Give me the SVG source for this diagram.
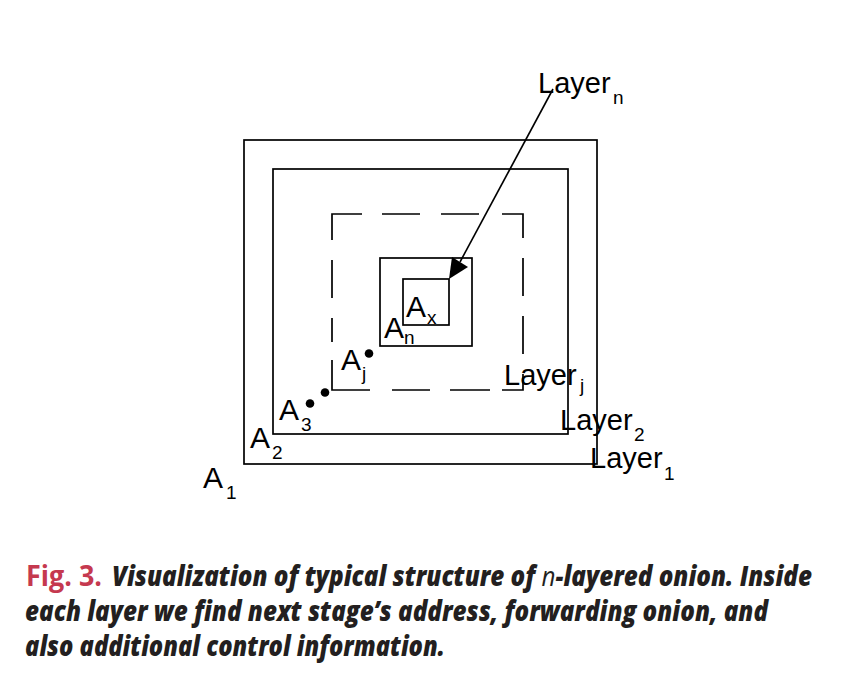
<svg xmlns="http://www.w3.org/2000/svg" width="850" height="682" viewBox="0 0 850 682">
<style>
.box{fill:none;stroke:#000;stroke-width:1.7}
.lbl{font-family:"Liberation Sans",Arial,sans-serif;font-size:30px;fill:#000}
.lay{font-family:"Liberation Sans",Arial,sans-serif;font-size:29px;fill:#000}
.sub{font-family:"Liberation Sans",Arial,sans-serif;font-size:19px;fill:#000}
.cap{font-family:"Open Sans","Liberation Sans",sans-serif;font-size:28px;font-weight:800;font-style:italic;fill:#231f20}
.dot{fill:#000}
</style>
<rect width="850" height="682" fill="#fff"/>
<g id="layer1"><rect class="box" x="244" y="140" width="353" height="324"/>
<text class="lay" x="590" y="468">Layer</text><text class="sub" x="664" y="480">1</text></g>
<g id="layer2"><rect class="box" x="273" y="169" width="295" height="265"/>
<text class="lay" x="560" y="430">Layer</text><text class="sub" x="634" y="441">2</text></g>
<g id="layerj"><path class="box" d="M332,240V214H362M382,214H420M441,214H479M502,214H523V238M523,258V296M523,316V354M523,374V390H502M490,390H450M430,390H392M370,390H332V360M332,342V318M332,298V260"/>
<text class="lay" x="504" y="385">Layer</text><text class="sub" x="580" y="392">j</text></g>
<g id="layern"><rect class="box" x="380" y="258" width="92" height="88"/>
<text class="lbl" x="384" y="338">A</text><text class="sub" x="404" y="344">n</text></g>
<g id="layerx"><rect class="box" x="403" y="279" width="46" height="46"/>
<text class="lbl" x="406" y="317">A</text><text class="sub" x="427" y="324">x</text></g>
<g id="addresses">
<text class="lbl" x="203" y="488">A</text><text class="sub" x="226" y="499">1</text>
<text class="lbl" x="250" y="448">A</text><text class="sub" x="272" y="459">2</text>
<text class="lbl" x="279" y="420">A</text><text class="sub" x="301" y="431">3</text>
<text class="lbl" x="341" y="370">A</text><text class="sub" x="362" y="380">j</text>
<circle class="dot" cx="310" cy="403.5" r="4.3"/>
<circle class="dot" cx="325" cy="392.5" r="4.3"/>
<circle class="dot" cx="369" cy="353.5" r="4.3"/>
</g>
<g id="label-layern"><text class="lay" x="538" y="93">Layer</text><text class="sub" x="613" y="104">n</text></g>
<g id="connectors">
<line x1="553" y1="89" x2="460" y2="262" stroke="#000" stroke-width="1.6"/>
<polygon points="449,279 468,267 452,257" fill="#000"/>
</g>
<g id="caption">
<text x="26" y="586" textLength="76" lengthAdjust="spacingAndGlyphs" style="font-family:'Open Sans','Liberation Sans',sans-serif;font-size:28px;font-weight:700;fill:#c5394f">Fig. 3.</text>
<text class="cap" x="112" y="586" textLength="700" lengthAdjust="spacingAndGlyphs">Visualization of typical structure of <tspan style="font-weight:400">n</tspan>-layered onion. Inside</text>
<text class="cap" x="25" y="621" textLength="743" lengthAdjust="spacingAndGlyphs">each layer we find next stage’s address, forwarding onion, and</text>
<text class="cap" x="25" y="656" textLength="420" lengthAdjust="spacingAndGlyphs">also additional control information.</text>
</g>
</svg>
